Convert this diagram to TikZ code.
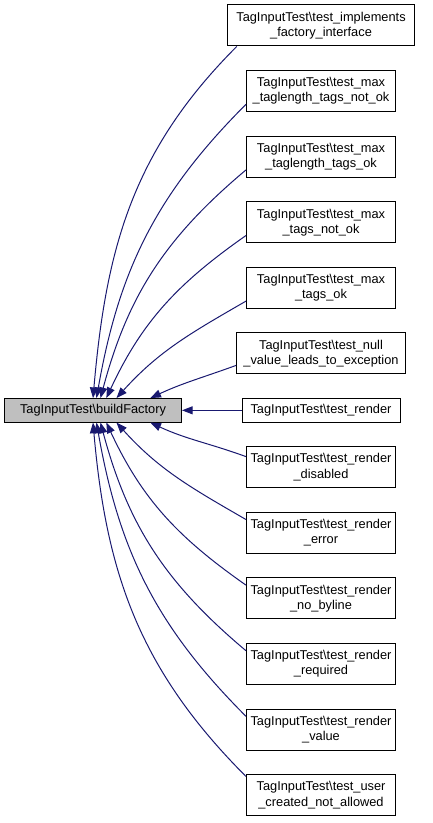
\documentclass[tikz,border=0pt]{standalone}
\usepackage{fontspec}
\setmainfont{Liberation Sans}
\usetikzlibrary{arrows.meta, positioning}
\definecolor{edgeblue}{HTML}{191970}
\definecolor{callergray}{HTML}{BFBFBF}

\begin{document}
\begin{tikzpicture}[
    x=0.75pt, y=0.75pt,
    node distance=17.7pt,
    box/.style={draw, line width=0.75pt, align=center, inner xsep=3pt, inner ysep=0pt,
                minimum width=111.75pt, minimum height=30.75pt, font=\fontsize{9.6}{11.3}\selectfont},
    onebox/.style={box, minimum height=17.6pt},
    arr/.style={-{Triangle[length=8pt, width=6pt]}, edgeblue, line width=0.75pt},
]
\useasboundingbox (0,0) rectangle (432,823);

% callers, right column
\node[box, minimum width=140.25pt] (impl) at (321,797.5) {TagInputTest\textbackslash test\_implements\\\_factory\_interface};
\node[box, below=of impl] (maxlenno) {TagInputTest\textbackslash test\_max\\\_taglength\_tags\_not\_ok};
\node[box, below=of maxlenno] (maxlenok) {TagInputTest\textbackslash test\_max\\\_taglength\_tags\_ok};
\node[box, below=of maxlenok] (maxno) {TagInputTest\textbackslash test\_max\\\_tags\_not\_ok};
\node[box, below=of maxno] (maxok) {TagInputTest\textbackslash test\_max\\\_tags\_ok};
\node[box, minimum width=126.75pt, below=of maxok] (nullval) {TagInputTest\textbackslash test\_null\\\_value\_leads\_to\_exception};
\node[onebox, minimum width=118.5pt, below=of nullval] (render) {TagInputTest\textbackslash test\_render};
\node[box, below=of render] (rdisabled) {TagInputTest\textbackslash test\_render\\\_disabled};
\node[box, below=of rdisabled] (rerror) {TagInputTest\textbackslash test\_render\\\_error};
\node[box, below=of rerror] (rnobyline) {TagInputTest\textbackslash test\_render\\\_no\_byline};
\node[box, below=of rnobyline] (rrequired) {TagInputTest\textbackslash test\_render\\\_required};
\node[box, below=of rrequired] (rvalue) {TagInputTest\textbackslash test\_render\\\_value};
\node[box, below=of rvalue] (usercreated) {TagInputTest\textbackslash test\_user\\\_created\_not\_allowed};

% the called function
\coordinate (mainx) at (93,0);
\node[onebox, minimum width=132.75pt, fill=callergray] (build) at (render -| mainx) {TagInputTest\textbackslash buildFactory};

\draw[arr] (impl.194) to[out=225, in=85] (build.north);
\draw[arr] (maxlenno.190) to[out=225, in=80] ([xshift=2.6pt]build.north);
\draw[arr] (maxlenok.190) to[out=220, in=75] ([xshift=5.6pt]build.north);
\draw[arr] (maxno.190) to[out=215, in=65] ([xshift=10pt]build.north);
\draw[arr] (maxok.190) to[out=210, in=48] ([xshift=17.6pt]build.north);
\draw[arr] (nullval.188) to[out=200, in=25] ([xshift=43pt]build.north);
\draw[arr] (render) -- (build);
\draw[arr] (rdisabled.172) to[out=160, in=-25] ([xshift=43pt]build.south);
\draw[arr] (rerror.170) to[out=150, in=-48] ([xshift=17.6pt]build.south);
\draw[arr] (rnobyline.170) to[out=145, in=-65] ([xshift=10pt]build.south);
\draw[arr] (rrequired.170) to[out=140, in=-75] ([xshift=5.6pt]build.south);
\draw[arr] (rvalue.170) to[out=135, in=-80] ([xshift=2.6pt]build.south);
\draw[arr] (usercreated.166) to[out=135, in=-85] (build.south);
\end{tikzpicture}
\end{document}
